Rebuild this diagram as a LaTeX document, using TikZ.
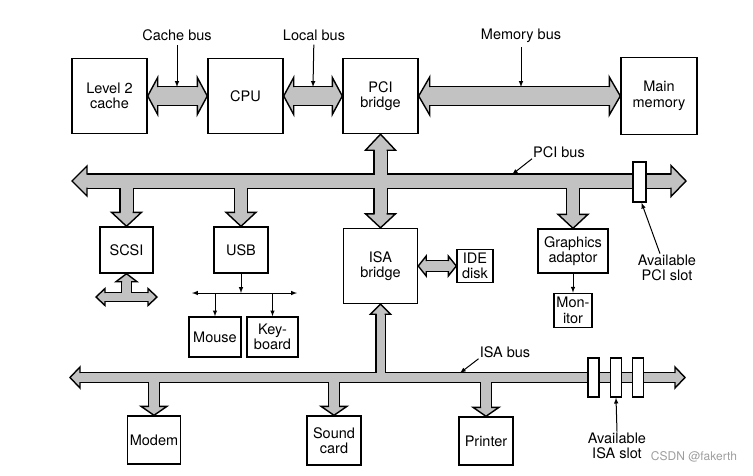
\documentclass[tikz,border=0pt]{standalone}
\usepackage{fontspec}
\setmainfont{TeX Gyre Heros}
\usepackage{tikz}
\usetikzlibrary{arrows,positioning}
\pgfdeclarelayer{busback}
\pgfsetlayers{busback,main}
\definecolor{busgray}{gray}{0.76}
\definecolor{markgray}{gray}{0.62}
\tikzset{
  box/.style={draw, line width=1.4pt, fill=white, align=center, inner sep=1pt, font=\fontsize{14.5}{15.5}\selectfont},
  lbl/.style={align=center, inner sep=1pt, font=\fontsize{14.5}{15.5}\selectfont},
  slot/.style={draw, line width=1.4pt, fill=white, minimum width=11pt, minimum height=39pt, inner sep=0pt},
  wire/.style={-latex, line width=1pt},
  bushead/.style={fill=busgray, draw=black, line width=1.4pt, line join=miter}
}
% grey bus shaft: outline on the back layer, fill on top
\newcommand{\bus}[3][]{%
  \begin{pgfonlayer}{busback}\draw[line width=#2+2.8,#1] #3;\end{pgfonlayer}
  \draw[busgray,line width=#2,#1] #3;}
% bus head: tip, direction, half shaft, half head, length
\newcommand{\bustip}[5]{%
  \filldraw[bushead,shift={(#1)},rotate=#2]
    (-#5,#3) -- (-#5,#4) -- (0,0) -- (-#5,-#4) -- (-#5,-#3);}
\begin{document}
\begin{tikzpicture}[x=1pt,y=-1pt]
  \useasboundingbox (0,0) rectangle (753,475);
  % top row
  \node[box, minimum width=75pt, minimum height=75pt] (l2) at (109.5,96) {Level 2\\cache};
  \node[box, minimum width=75pt, minimum height=75pt] (cpu) at (245.5,96) {CPU};
  \node[box, minimum width=75pt, minimum height=75pt] (pcib) at (380.5,96) {PCI\\bridge};
  \node[box, minimum width=76pt, minimum height=77pt] (mem) at (659,96) {Main\\memory};
  % middle row
  \node[box, minimum width=53pt, minimum height=46pt] (scsi) at (126.5,250) {SCSI};
  \node[box, minimum width=54pt, minimum height=46pt] (usb) at (241,250) {USB};
  \node[box, minimum width=74pt, minimum height=75pt] (isab) at (380.5,266) {ISA\\bridge};
  \node[box, minimum width=36pt, minimum height=33pt] (ide) at (475,266) {IDE\\disk};
  \node[box, minimum width=70pt, minimum height=44pt] (gfx) at (573,251) {Graphics\\adaptor};
  \node[box, minimum width=38pt, minimum height=34pt, below=19pt of gfx] (mon) {Mon-\\itor};
  \node[box, minimum width=52pt, minimum height=40pt] (mouse) at (215,337) {Mouse};
  \node[box, minimum width=51pt, minimum height=40pt] (kbd) at (272.5,337) {Key-\\board};
  % bottom row
  \node[box, minimum width=53pt, minimum height=48pt] (modem) at (154,440) {Modem};
  \node[box, minimum width=54pt, minimum height=49pt] (sound) at (334,440.5) {Sound\\card};
  \node[box, minimum width=54pt, minimum height=48pt] (printer) at (486,441) {Printer};

  % cache, local and memory bus
  \bus[shorten <=9, shorten >=9]{18}{(l2) -- (cpu)}
  \bustip{l2.east}{180}{9}{18.5}{10}
  \bustip{cpu.west}{0}{9}{18.5}{10}
  \bus[shorten <=9, shorten >=9]{18}{(cpu) -- (pcib)}
  \bustip{cpu.east}{180}{9}{18.5}{10}
  \bustip{pcib.west}{0}{9}{18.5}{10}
  \bus[shorten <=10, shorten >=10]{18}{(pcib) -- (mem)}
  \bustip{pcib.east}{180}{9}{19}{11}
  \bustip{mem.west}{0}{9}{19}{11}

  % PCI bus
  \coordinate (pciL) at (72,181);
  \coordinate (pciR) at (686,181);
  \bus[shorten <=14, shorten >=14]{13}{(pciL) -- (pciR)}
  \bustip{pciL}{180}{6.5}{15}{15}
  \bustip{pciR}{0}{6.5}{15.5}{15}
  \bus[shorten >=13]{12}{(scsi.north |- pciL) -- (scsi.north)}
  \bustip{scsi.north}{-90}{6}{15}{14}
  \bus[shorten >=13]{12}{(usb.north |- pciL) -- (usb.north)}
  \bustip{usb.north}{-90}{6}{15}{14}
  \bus[shorten >=13]{12}{(gfx.north |- pciL) -- (gfx.north)}
  \bustip{gfx.north}{-90}{6}{15}{14}
  \bus[shorten <=15, shorten >=13]{12}{(pcib) -- (isab)}
  \bustip{pcib.south}{90}{6}{15}{16}
  \bustip{isab.north}{-90}{6}{15}{14}
  \bus[shorten <=7, shorten >=7]{10}{(isab) -- (ide)}
  \bustip{isab.east}{180}{5}{10}{8}
  \bustip{ide.west}{0}{5}{10}{8}

  % SCSI cable
  \coordinate (scsiL) at (96,297);
  \coordinate (scsiR) at (157,297);
  \bus[shorten <=8, shorten >=8]{8}{(scsiL) -- (scsiR)}
  \bustip{scsiL}{180}{4}{8.5}{9}
  \bustip{scsiR}{0}{4}{8.5}{9}
  \bus[shorten >=7]{9}{(scsi.south |- scsiL) -- (scsi.south)}
  \bustip{scsi.south}{90}{4.5}{10.5}{8}

  % ISA bus
  \coordinate (isaL) at (70,377.5);
  \coordinate (isaR) at (685,377.5);
  \bus[shorten <=9, shorten >=9]{9}{(isaL) -- (isaR)}
  \bustip{isaL}{180}{4.5}{10.5}{10}
  \bustip{isaR}{0}{4.5}{10.5}{10}
  \bus[shorten >=9]{8}{(isab.south |- isaL) -- (isab.south)}
  \bustip{isab.south}{90}{4}{10}{10}
  \bus[shorten >=8]{10}{(modem.north |- isaL) -- (modem.north)}
  \bustip{modem.north}{-90}{5}{13}{9}
  \bus[shorten >=8]{10}{(sound.north |- isaL) -- (sound.north)}
  \bustip{sound.north}{-90}{5}{13}{9}
  \bus[shorten >=8]{10}{(printer.north |- isaL) -- (printer.north)}
  \bustip{printer.north}{-90}{5}{13}{9}

  % slots
  \node[slot, minimum width=13pt, minimum height=40pt] (pcislot) at (639.5,182) {};
  \node[slot] (isaslot1) at (593.5,377.5) {};
  \node[slot] (isaslot2) at (616,377.5) {};
  \node[slot] (isaslot3) at (638,377.5) {};

  % USB wires
  \coordinate (usbL) at (192,293);
  \coordinate (usbR) at (297,293);
  \draw[wire] (usb) -- (usb.south |- usbL);
  \draw[wire, latex-latex] (usbL) -- (usbR);
  \draw[wire] (mouse.north |- usbL) -- (mouse);
  \draw[wire] (kbd.north |- usbL) -- (kbd);
  \draw[wire] (gfx) -- (mon);

  % labels
  \node[lbl] (cachebus) at (177,35) {Cache bus};
  \node[lbl] (localbus) at (314,35) {Local bus};
  \node[lbl] (membus) at (521,36) {Memory bus};
  \node[lbl] (pcibus) at (559,152) {PCI bus};
  \node[lbl] (isabus) at (505,352) {ISA bus};
  \node[lbl] (pcislotlbl) at (667,268) {Available\\PCI slot};
  \node[lbl] (isaslotlbl) at (617,446) {Available\\ISA slot};
  \coordinate (cachein) at (177,87);
  \coordinate (localin) at (313,87);
  \coordinate (memin) at (521,87);
  \coordinate (pciin) at (512,174.5);
  \coordinate (isain) at (460,373);
  \draw[wire, shorten <=3pt] (cachebus) -- (cachein);
  \draw[wire, shorten <=3pt] (localbus) -- (localin);
  \draw[wire, shorten <=3pt] (membus) -- (memin);
  \draw[wire] (pcibus.south west) -- (pciin);
  \draw[wire] (isabus.south west) -- (isain);
  \draw[wire] ([xshift=-7pt]pcislotlbl.north) -- ([xshift=2pt]pcislot.south);
  \draw[wire] (isaslotlbl.north) -- (isaslot2.south);

  \node[text=markgray, font=\fontsize{12}{12}\selectfont, inner sep=0pt] (mark) at (694,457) {CSDN @fakerth};
\end{tikzpicture}
\end{document}
